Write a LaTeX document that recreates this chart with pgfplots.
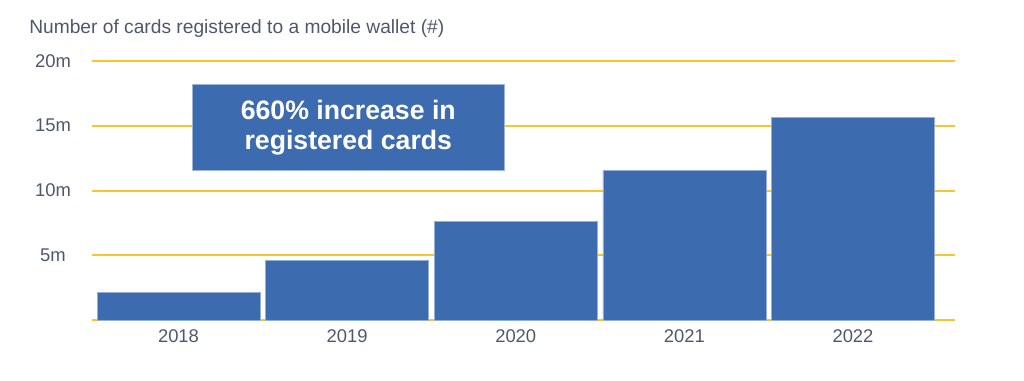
\documentclass[border=0pt]{standalone}
\usepackage{pgfplots}
\pgfplotsset{compat=1.18}
\usepackage{fontspec}
\setmainfont{Liberation Sans}
\definecolor{barblue}{RGB}{60,107,176}
\definecolor{gridgold}{RGB}{250,196,45}
\definecolor{txt}{RGB}{78,88,108}
\begin{document}
\begin{tikzpicture}
\begin{axis}[
  at={(0,0)}, anchor=south west,
  scale only axis, width=647.25pt, height=194.25pt,
  xmin=-0.513, xmax=4.605, ymin=0, ymax=20,
  ytick={0,5,10,15,20}, yticklabels={,5m,10m,15m,20m},
  xtick={0,1,2,3,4}, xticklabels={2018,2019,2020,2021,2022},
  ymajorgrids, grid style={gridgold, line width=1.5pt},
  axis line style={draw=none}, tick style={draw=none},
  ticklabel style={font=\fontsize{13.8}{16}\selectfont, text=txt},
  yticklabel style={anchor=center, xshift=-29.25pt},
  xticklabel style={anchor=base, yshift=-17pt},
  /pgf/number format/assume math mode=true,
  clip=false,
]
\addplot[ybar, bar width=122.25pt, bar shift=0pt, fill=barblue, draw=barblue!55!white, line width=0.5pt]
  coordinates {(0,2.14) (1,4.58) (2,7.64) (3,11.56) (4,15.65)};
\node[fill=barblue, draw=barblue!50!white, line width=0.5pt, minimum width=234pt, minimum height=64.3pt,
  text=white, font=\bfseries\fontsize{20}{22.5}\selectfont, align=center, inner sep=0pt]
  at (axis cs:1.007,14.89) {660\% increase in\\registered cards};
\end{axis}
\node[anchor=base west, inner sep=0pt, text=txt, font=\fontsize{14.4}{16}\selectfont]
  at (-47.25pt,215.25pt) {Number of cards registered to a mobile wallet (\#)};
\pgfresetboundingbox
\useasboundingbox (-69pt,-45pt) rectangle (699pt,240pt);
\end{tikzpicture}
\end{document}
